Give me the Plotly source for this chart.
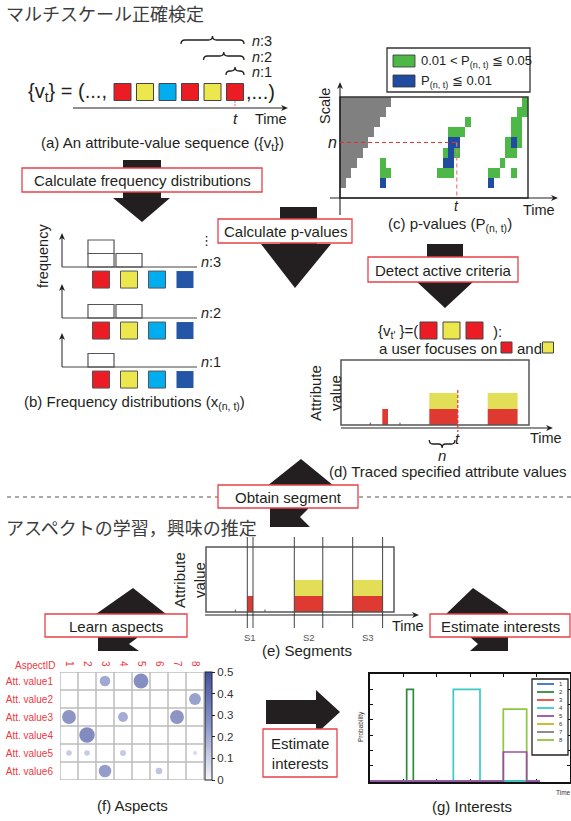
import plotly.graph_objects as go

W, H = 571, 821

# ---------------- data ----------------
# (a) attribute-value sequence
SEQ_COLORS = ["#ec1c24", "#ece74c", "#00aeef", "#ec1c24", "#ece74c", "#ec1c24"]
SEQ_INDEX = [0, 1, 2, 3, 4, 5]
WINDOW_LABELS = ["n:1", "n:2", "n:3"]
WINDOW_START = [5, 4, 3]
T_INDEX = 5

# (b) frequency distributions (counts for red, yellow, cyan, blue)
BIN_COLORS = ["#ec1c24", "#ece74c", "#00aeef", "#2356a6"]
BINS = [0, 1, 2, 3]
FREQ_N1 = [1, 0, 0, 0]
FREQ_N2 = [1, 1, 0, 0]
FREQ_N3 = [2, 1, 0, 0]

# (c) p-values grid, top row = largest scale ('.' none, g unavailable, G 0.01<p<=0.05, B p<=0.01)
PV_ROWS = [
    "ggggggggg.......................G",
    "gggggggg.......................GG",
    "ggggggg...............G.......GG.",
    "gggggg.............GGG........GG.",
    "ggggg..............BB........GBG.",
    "gggg..............GBG........GG..",
    "ggg....G..........BB........G....",
    "gg.....GG........GGG......GG..G..",
    "g......B..................B......",
    ".................................",
]
PV_CODES = {".": 0, "g": 1, "G": 2, "B": 3}
T_COL = 20
N_ROW = 4

# (d)/(e) traced attribute values
SEG_START = [14.5, 31.0, 51.5]
SEG_END = [16.5, 41.0, 62.0]
RED_LEVEL = [1, 1, 1]
YELLOW_LEVEL = [0, 1, 1]
SEG_NAMES = ["S1", "S2", "S3"]
TIME_TICKS = [10.3, 20.7]
T_NOW = 41
WIN_N = [31, 40]
TIME_MAX = 66
FOCUS_COLORS = ["#ec1c24", "#ece74c", "#ec1c24"]
FOCUS_INDEX = [0, 1, 2]

# (f) aspects
ASPECT_IDS = [1, 2, 3, 4, 5, 6, 7, 8]
ATT_VALUES = ["Att. value1", "Att. value2", "Att. value3", "Att. value4", "Att. value5", "Att. value6"]
ASPECTS = [
    [0.01, 0.01, 0.32, 0.01, 0.45, 0.01, 0.01, 0.01],
    [0.01, 0.01, 0.01, 0.01, 0.01, 0.01, 0.01, 0.36],
    [0.42, 0.01, 0.01, 0.30, 0.01, 0.01, 0.42, 0.01],
    [0.01, 0.47, 0.01, 0.01, 0.01, 0.01, 0.01, 0.01],
    [0.17, 0.17, 0.01, 0.18, 0.01, 0.01, 0.01, 0.12],
    [0.01, 0.01, 0.38, 0.01, 0.01, 0.20, 0.01, 0.01],
]

# (g) interests (step series)
INT_TIME = [0, 11, 13, 25, 33, 40, 47, 51]
INT_NAMES = ["1", "2", "3", "4", "5", "6", "7", "8"]
INT_VALUES = [
    [0, 0, 0, 0, 0, 0, 0, 0],
    [0, 0.6, 0, 0, 0, 0, 0, 0],
    [0, 0, 0, 0, 0, 0, 0, 0],
    [0, 0, 0, 0.6, 0, 0, 0, 0],
    [0, 0, 0, 0, 0, 0.19, 0, 0],
    [0, 0, 0, 0, 0, 0, 0, 0],
    [0, 0, 0, 0, 0, 0, 0, 0],
    [0, 0, 0, 0, 0, 0.47, 0, 0],
]
INT_COLORS = ["#3b6fc0", "#2e8b3c", "#e84a3c", "#3cc8c4", "#9a4fa6", "#c8b428", "#808080", "#8dc63f"]
INT_DRAW_ORDER = [0, 1, 2, 5, 6, 7, 3, 4]

# ---------------- styles ----------------
INK = "#231f20"
FONT = "Liberation Sans, Arial, Helvetica, sans-serif"
JFONT = "Noto Sans CJK JP, sans-serif"
BOX_RED = "#e8424a"
LABEL_RED = "#ee3a43"
BAR_RED = "#de3a32"
BAR_YELLOW = "#e3de58"
PV_GRAY, PV_GREEN, PV_BLUE = "#808080", "#4db848", "#1f4c9e"

fig = go.Figure()
shapes, annos = [], []


def xd(a, b):
    return [a / W, b / W]


def yd(a, b):
    return [1 - b / H, 1 - a / H]


def txt(x, y, s, size=15, xa="center", color=INK, angle=0, font=FONT, xref="x", yref="y", ya="middle"):
    annos.append(dict(x=x, y=y, text=s, xref=xref, yref=yref, showarrow=False, xanchor=xa, yanchor=ya,
                      textangle=angle, font=dict(size=size, color=color, family=font)))


def line(x0, y0, x1, y1, color=INK, width=1, dash=None, xref="x", yref="y", layer="above"):
    d = dict(type="line", x0=x0, y0=y0, x1=x1, y1=y1, xref=xref, yref=yref, layer=layer,
             line=dict(color=color, width=width))
    if dash:
        d["line"]["dash"] = dash
    shapes.append(d)


def arrow(x0, y0, x1, y1, w=1.1):
    # axis arrow: straight line plus a small filled head (horizontal or vertical only)
    L, hw = 7, 3
    if y0 == y1:
        s = 1 if x1 > x0 else -1
        line(x0, y0, x1 - s * L * 0.6, y1, width=w)
        p = f"M {x1},{y1} L {x1 - s * L},{y1 - hw} L {x1 - s * L * 0.7},{y1} L {x1 - s * L},{y1 + hw} Z"
    else:
        s = 1 if y1 > y0 else -1
        line(x0, y0, x1, y1 - s * L * 0.6, width=w)
        p = f"M {x1},{y1} L {x1 - hw},{y1 - s * L} L {x1},{y1 - s * L * 0.7} L {x1 + hw},{y1 - s * L} Z"
    shapes.append(dict(type="path", path=p, xref="x", yref="y", layer="above",
                       fillcolor=INK, line=dict(width=0)))


def rect(x0, y0, x1, y1, color="#333", width=1, fill="rgba(0,0,0,0)", xref="x", yref="y"):
    shapes.append(dict(type="rect", x0=x0, y0=y0, x1=x1, y1=y1, xref=xref, yref=yref, layer="above",
                       line=dict(color=color, width=width), fillcolor=fill))


def brace(x0, x1, y, h, rx, up, xref, width=1.3):
    s = -1 if up else 1
    xm = (x0 + x1) / 2
    yb, yt = y - s * h, y + s * h
    p = (f"M {x0},{yb} Q {x0},{y} {x0 + rx},{y} L {xm - rx},{y} Q {xm},{y} {xm},{yt} "
         f"Q {xm},{y} {xm + rx},{y} L {x1 - rx},{y} Q {x1},{y} {x1},{yb}")
    shapes.append(dict(type="path", path=p, xref=xref, yref="y", layer="above",
                       line=dict(color=INK, width=width), fillcolor="rgba(0,0,0,0)"))


# ---------------- big block arrows ----------------
ARROWS = [
    "M 123,160 L 161,160 L 161,198 L 170,198 L 142,222 L 113,198 L 123,198 Z",
    "M 280,207 L 317,207 L 317,244 L 331,244 L 295,288 L 261,244 L 280,244 Z",
    "M 427,244 L 463,244 L 463,282 L 473,282 L 445,308 L 417,282 L 427,282 Z",
    "M 301,459 L 334,486 L 308,486 L 308,509 L 300,517 L 310,527 L 270,527 L 270,486 L 267,486 Z",
    "M 133,588 L 166,614 L 137,614 L 137,638 L 129,644 L 139,651 L 98,651 L 98,614 L 96,614 Z",
    "M 473,588 L 508,612 L 508,651 L 470,651 L 478,644 L 470,637 L 470,614 L 446,614 Z",
    "M 266,700 L 316,700 L 316,690 L 340,712 L 316,734 L 316,724 L 266,724 Z",
]
for p in ARROWS:
    shapes.append(dict(type="path", path=p, xref="x", yref="y", layer="above",
                       fillcolor=INK, line=dict(width=0)))

# ---------------- (a) ----------------
txt(4, 13, "マルチスケール正確検定", size=18, xa="left", color="#3c3c3c", font=JFONT)
fig.add_trace(go.Scatter(x=SEQ_INDEX, y=[0] * len(SEQ_INDEX), mode="markers", xaxis="x10", yaxis="y10",
                         marker=dict(symbol="square", size=17, color=SEQ_COLORS, line=dict(color="#444", width=1)),
                         hoverinfo="skip", showlegend=False))
txt(26, 92, "{v<sub>t</sub>} = (...,", size=20, xa="left")
txt(244, 92, ",...)", size=20, xa="left")
arrow(73, 108, 288, 108)
line(T_INDEX, 101, T_INDEX, 108, color="#f07070", width=1, dash="2px,1px", xref="x10")
txt(T_INDEX, 118, "<i>t</i>", size=15, xref="x10")
txt(271, 119, "Time", size=14.5)
for lab, st, yy in zip(WINDOW_LABELS, WINDOW_START, [71, 56, 40]):
    brace(st - 0.4, T_INDEX + 0.4, yy, 4, 0.18, True, "x10")
    txt(250, yy + 1, "<i>n</i>:" + lab.split(":")[1], size=14.5, xa="left")
txt(162, 143, "(a) An attribute-value sequence ({v<sub>t</sub>})", size=15)

# ---------------- (b) ----------------
txt(43, 256, "frequency", size=14.5, angle=-90)
panels = [("x3", "y3", FREQ_N3, 267, "3"), ("x4", "y4", FREQ_N2, 318, "2"), ("x5", "y5", FREQ_N1, 367, "1")]
for xa_, ya_, freq, base, lab in panels:
    for k in range(1, max(freq) + 1):
        fig.add_trace(go.Bar(x=BINS, y=[1 if f >= k else None for f in freq], base=[k - 1] * len(BINS),
                             width=0.93, xaxis=xa_, yaxis=ya_, hoverinfo="skip", showlegend=False,
                             marker=dict(color="white", line=dict(color="#555", width=1.2))))
    fig.add_trace(go.Scatter(x=BINS, y=[-0.93] * len(BINS), mode="markers", xaxis=xa_, yaxis=ya_,
                             marker=dict(symbol="square", size=17, color=BIN_COLORS,
                                         line=dict(color="#555", width=[1, 1, 1, 0])),
                             hoverinfo="skip", showlegend=False))
    line(62, base, 197, base, color="#444", width=1)
    arrow(62, base, 62, base - 34, w=1)
    txt(199, base - 5, "<i>n</i>:" + lab, size=14.5, xa="left")
txt(206, 240, "⋮", size=13, font="DejaVu Sans")
txt(134, 402, "(b) Frequency distributions (x<sub>(n, t)</sub>)", size=15)

# ---------------- (c) ----------------
Z = [[PV_CODES[c] for c in row] for row in PV_ROWS]
cs = [[0, "white"], [0.1667, "white"], [0.1667, PV_GRAY], [0.5, PV_GRAY], [0.5, PV_GREEN],
      [0.8333, PV_GREEN], [0.8333, PV_BLUE], [1, PV_BLUE]]
fig.add_trace(go.Heatmap(z=Z, x=list(range(len(PV_ROWS[0]))), y=list(range(len(PV_ROWS))), colorscale=cs,
                         zmin=0, zmax=3, showscale=False, xaxis="x2", yaxis="y2", hoverinfo="skip"))
rect(0, 0, 1, 1, color="#333", width=1.5, xref="x2 domain", yref="y2 domain")
arrow(330, 198, 558, 198)
arrow(340, 215, 340, 82)
line(-0.5, N_ROW, T_COL, N_ROW, color="#e03030", width=1, dash="4px,3px", xref="x2", yref="y2")
line(T_COL, N_ROW, T_COL, 9.5, color="#f07a7a", width=1.2, dash="4px,3px", xref="x2", yref="y2")
txt(325, 106, "Scale", size=14.5, angle=-90)
txt(332, N_ROW, "<i>n</i>", size=16, yref="y2")
txt(T_COL, 206, "<i>t</i>", size=14, xref="x2")
txt(539, 210, "Time", size=14.5)
txt(450, 224, "(c) p-values (P<sub>(n, t)</sub>)", size=15)
rect(387, 48, 530, 92, color="#333", width=1.3, fill="white")
rect(393, 55, 415, 67, color="#333", width=0.8, fill=PV_GREEN)
rect(393, 75, 415, 87, color="#333", width=0.8, fill=PV_BLUE)
txt(419, 61, "0.01 < P<sub>(n, t)</sub> ≦ 0.05", size=13, xa="left")
txt(419, 81, "P<sub>(n, t)</sub> ≦ 0.01", size=13, xa="left")

# ---------------- (d) ----------------
mids = [(a + b) / 2 for a, b in zip(SEG_START, SEG_END)]
widths = [b - a for a, b in zip(SEG_START, SEG_END)]
for xa_, ya_, bottom in [("x6", "y6", 425), ("x7", "y7", 612)]:
    fig.add_trace(go.Bar(x=mids, y=RED_LEVEL, base=[0] * 3, width=widths, xaxis=xa_, yaxis=ya_,
                         marker=dict(color=BAR_RED, line=dict(width=0)), hoverinfo="skip", showlegend=False))
    fig.add_trace(go.Bar(x=mids, y=[v if v else None for v in YELLOW_LEVEL], base=RED_LEVEL, width=widths,
                         xaxis=xa_, yaxis=ya_, marker=dict(color=BAR_YELLOW, line=dict(width=0)),
                         hoverinfo="skip", showlegend=False))
    rect(0, 0, 1, 1, color="#555", width=1.5, xref=xa_ + " domain", yref=ya_ + " domain")
    for tk in TIME_TICKS:
        line(tk, bottom, tk, bottom - 2.5, color="#555", width=1, xref=xa_)

fig.add_trace(go.Scatter(x=FOCUS_INDEX, y=[0] * 3, mode="markers", xaxis="x11", yaxis="y11",
                         marker=dict(symbol="square", size=17, color=FOCUS_COLORS, line=dict(color="#444", width=1)),
                         hoverinfo="skip", showlegend=False))
txt(376, 331, "{v<sub>t'</sub> }=(", size=15, xa="left")
txt(491, 331, "):", size=15, xa="left")
txt(377, 348, "a user focuses on", size=15, xa="left")
txt(515, 348, "and", size=15, xa="left")
fig.add_trace(go.Scatter(x=[506.5, 548], y=[347.5, 347.5], mode="markers", xaxis="x", yaxis="y",
                         marker=dict(symbol="square", size=11, color=[FOCUS_COLORS[0], FOCUS_COLORS[1]],
                                     line=dict(color="#444", width=1)),
                         hoverinfo="skip", showlegend=False))
arrow(341, 428, 553, 428)
line(T_NOW, 390, T_NOW, 432, color="#e03030", width=1.2, dash="3px,2px", xref="x6")
txt(325, 393, "Attribute<br>value", size=15, angle=-90)
txt(T_NOW, 438, "<i>t</i>", size=15, xref="x6")
txt(546, 438, "Time", size=14.5)
brace(WIN_N[0], WIN_N[1], 444, 4, 1.2, False, "x6")
txt((WIN_N[0] + WIN_N[1]) / 2, 455, "<i>n</i>", size=15, xref="x6")
txt(327, 471, "(d) Traced specified attribute values", size=15, xa="left")

# separator
line(7, 497, 218, 497, color="#555", width=1, dash="4px,4px")
line(359, 497, 571, 497, color="#555", width=1, dash="4px,4px")

# ---------------- (e) ----------------
txt(4, 527, "アスペクトの学習，興味の推定", size=18, xa="left", color="#3c3c3c", font=JFONT)
for a, b in zip(SEG_START, SEG_END):
    line(a, 537, a, 628, color="#444", width=1, xref="x7")
    line(b, 537, b, 628, color="#444", width=1, xref="x7")
for m, nm in zip(mids, SEG_NAMES):
    txt(m, 637, nm, size=9.5, color="#555", xref="x7")
arrow(205, 615, 419, 615)
txt(189, 580, "Attribute<br>value", size=15, angle=-90)
txt(408, 626, "Time", size=14.5)
txt(307, 650, "(e) Segments", size=15)

# ---------------- (f) ----------------
fx, fy, fv = [], [], []
for r, row in enumerate(ASPECTS):
    for c, v in enumerate(row):
        fx.append(ASPECT_IDS[c])
        fy.append(r + 1)
        fv.append(v)
for i in range(len(ASPECT_IDS) + 1):
    line(0.5 + i, 0.5, 0.5 + i, len(ATT_VALUES) + 0.5, color="#bdbdbd", width=1.5, xref="x8", yref="y8", layer="below")
for j in range(len(ATT_VALUES) + 1):
    line(0.5, 0.5 + j, len(ASPECT_IDS) + 0.5, 0.5 + j, color="#bdbdbd", width=1.5, xref="x8", yref="y8", layer="below")
fig.add_trace(go.Scatter(
    x=fx, y=fy, mode="markers", xaxis="x8", yaxis="y8", hoverinfo="skip", showlegend=False,
    marker=dict(size=fv, sizemode="diameter", sizeref=0.47 / 15.5, color=fv, cmin=0, cmax=0.5,
                colorscale=[[0, "#f6f6fb"], [0.5, "#8e98cc"], [1, "#44529e"]], line=dict(width=0),
                showscale=True,
                colorbar=dict(x=205 / W, xanchor="left", y=1 - 726 / H, yanchor="middle", len=108,
                              lenmode="pixels", thickness=7, outlinecolor="#222", outlinewidth=1,
                              xpad=0, ypad=0, ticks="outside", ticklen=3, tickcolor="#222",
                              tickvals=[0, 0.1, 0.2, 0.3, 0.4, 0.5], ticktext=["0", "0.1", "0.2", "0.3", "0.4", "0.5"],
                              tickfont=dict(size=11.5, color="#333", family=FONT)))))
txt(58, 665, "AspectID", size=10, xa="right", color=LABEL_RED)
txt(132, 805, "(f) Aspects", size=15)

# ---------------- (g) ----------------
for i in INT_DRAW_ORDER:
    fig.add_trace(go.Scatter(x=INT_TIME, y=INT_VALUES[i], mode="lines", line_shape="hv", xaxis="x9", yaxis="y9",
                             line=dict(color=INT_COLORS[i], width=1.7),
                             hoverinfo="skip", showlegend=False))
rect(532, 679, 568, 755, color="#222", width=1.3, fill="white")
for i, (nm, col) in enumerate(zip(INT_NAMES, INT_COLORS)):
    yy = 684 + 8 * i
    line(537, yy, 554, yy, color=col, width=1.8)
    txt(557, yy, nm, size=6, xa="left", color="#333")
txt(361, 727, "Probability", size=6.5, angle=-90, color="#333")
txt(554, 792, "Time", size=6.5, xa="left", color="#333")
txt(472, 806, "(g) Interests", size=15)

# ---------------- label boxes ----------------
LABEL_BOXES = [
    ("Calculate frequency distributions", 22, 168, 262, 192),
    ("Calculate p-values", 218, 219, 352, 243),
    ("Detect active criteria", 368, 257, 518, 282),
    ("Obtain segment", 218, 485, 358, 508),
    ("Learn aspects", 45, 614, 187, 637),
    ("Estimate interests", 430, 614, 570, 637),
    ("Estimate<br>interests", 263, 729, 337, 777),
]
for s, x0, y0, x1, y1 in LABEL_BOXES:
    rect(x0, y0, x1, y1, color=BOX_RED, width=1.3, fill="white")
    txt((x0 + x1) / 2, (y0 + y1) / 2 + 0.5, s, size=15)

# ---------------- axes ----------------
hid = dict(visible=False, fixedrange=True)
lay = dict(
    xaxis=dict(domain=[0, 1], range=[0, W], anchor="y", **hid),
    yaxis=dict(domain=[0, 1], range=[H, 0], anchor="x", **hid),
    xaxis2=dict(domain=xd(340, 528), range=[-0.5, 32.5], anchor="y2", **hid),
    yaxis2=dict(domain=yd(97, 198), range=[9.5, -0.5], anchor="x2", **hid),
    xaxis6=dict(domain=xd(341, 529), range=[0, TIME_MAX], anchor="y6", **hid),
    yaxis6=dict(domain=yd(360, 425), range=[0, 4.06], anchor="x6", **hid),
    xaxis7=dict(domain=xd(206, 394), range=[0, TIME_MAX], anchor="y7", **hid),
    yaxis7=dict(domain=yd(547, 612), range=[0, 4.06], anchor="x7", **hid),
    xaxis10=dict(domain=xd(100, 260), range=[-1, 6.111], anchor="y10", **hid),
    yaxis10=dict(domain=yd(80, 104), range=[-1, 1], anchor="x10", **hid),
    xaxis11=dict(domain=xd(408, 495), range=[-0.891, 2.891], anchor="y11", **hid),
    yaxis11=dict(domain=yd(320, 341), range=[-1, 1], anchor="x11", **hid),
    xaxis8=dict(domain=xd(60, 204), range=[0.5, 8.5], anchor="y8", side="top", tickmode="array",
                tickvals=ASPECT_IDS, ticktext=[str(a) for a in ASPECT_IDS], tickangle=90, ticks="",
                tickfont=dict(size=10, color=LABEL_RED, family=FONT), showgrid=False, zeroline=False,
                showline=False, fixedrange=True, ticklabelstandoff=3),
    yaxis8=dict(domain=yd(672, 780), range=[6.5, 0.5], anchor="x8", tickmode="array",
                tickvals=list(range(1, len(ATT_VALUES) + 1)), ticktext=ATT_VALUES, ticks="",
                tickfont=dict(size=10, color=LABEL_RED, family=FONT), showgrid=False, zeroline=False,
                showline=False, fixedrange=True, ticklabelstandoff=6),
    xaxis9=dict(domain=xd(370, 570), range=[0, 60], anchor="y9", showline=True, mirror="ticks",
                linecolor="#111", linewidth=1.8, ticks="inside", ticklen=3, tickcolor="#111",
                tickvals=[10, 20, 30, 40, 50], showticklabels=False, showgrid=False, zeroline=False,
                fixedrange=True, layer="below traces"),
    yaxis9=dict(domain=yd(674, 782), range=[-0.006, 0.7], anchor="x9", showline=True, mirror="ticks",
                linecolor="#111", linewidth=1.8, ticks="inside", ticklen=3, tickcolor="#111",
                tickvals=[0.1, 0.2, 0.3, 0.4, 0.5, 0.6], showticklabels=False, showgrid=False, zeroline=False,
                fixedrange=True, layer="below traces"),
)
for k, base in zip([3, 4, 5], [267, 318, 367]):
    lay[f"xaxis{k}"] = dict(domain=xd(62, 200), range=[-1.393, 3.536], anchor=f"y{k}", **hid)
    lay[f"yaxis{k}"] = dict(domain=yd(base - 36, base + 24), range=[-1.778, 2.667], anchor=f"x{k}", **hid)

fig.update_layout(**lay)
fig.update_layout(width=W, height=H, margin=dict(l=0, r=0, t=0, b=0), paper_bgcolor="white",
                  plot_bgcolor="rgba(0,0,0,0)", barmode="overlay", showlegend=False, hovermode=False,
                  shapes=shapes, annotations=annos, font=dict(family=FONT, color=INK))

fig.write_html("out.html", config={"displayModeBar": False, "staticPlot": True},
               post_script="document.body.style.margin='0';document.body.style.overflow='hidden';")
